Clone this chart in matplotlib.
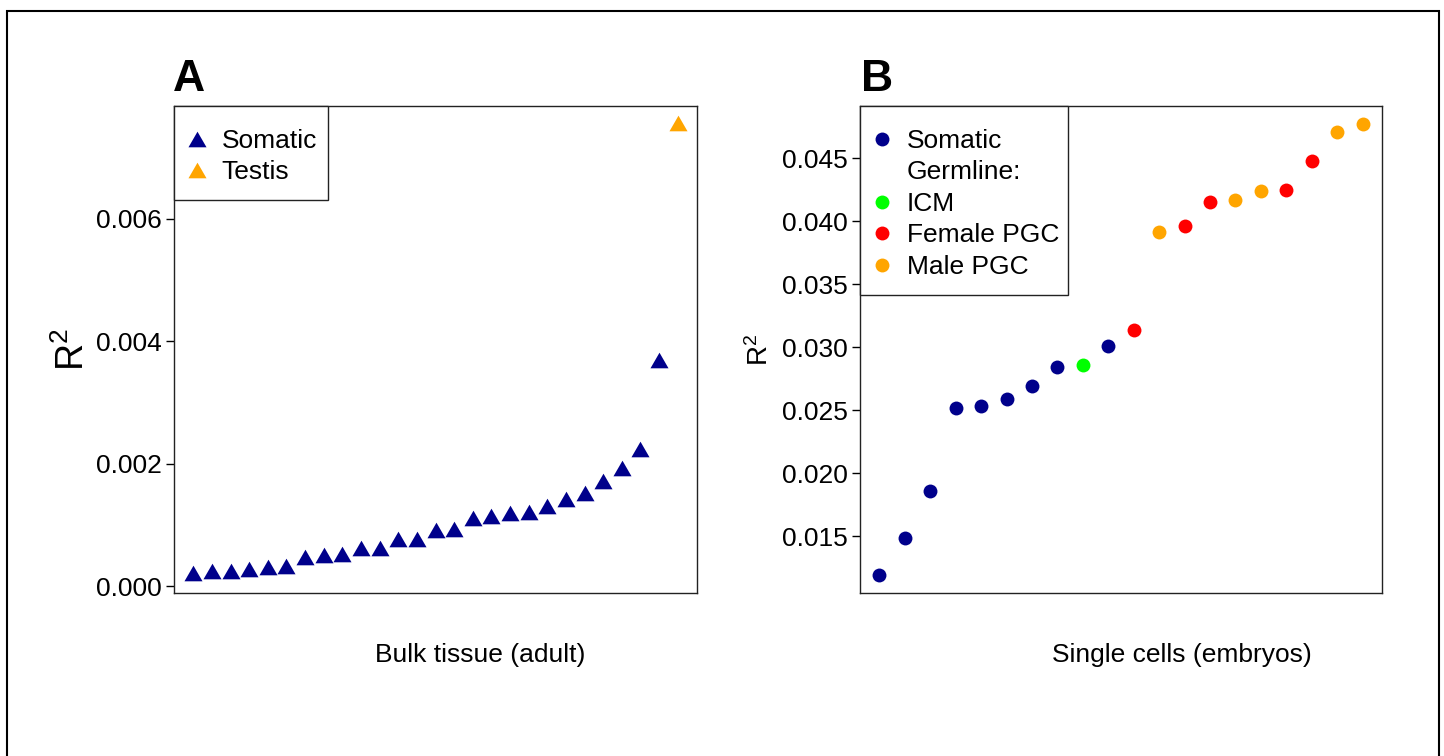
import matplotlib
matplotlib.use("Agg")
import matplotlib.pyplot as plt
from matplotlib.lines import Line2D
from matplotlib.patches import Rectangle
from matplotlib.path import Path

plt.rcParams['font.family'] = ['Liberation Sans', 'DejaVu Sans']
plt.rcParams['mathtext.fontset'] = 'custom'
plt.rcParams['mathtext.rm'] = 'Liberation Sans'
plt.rcParams['mathtext.default'] = 'regular'

# ---- Data ----
bulk_somatic = [0.000207, 0.000240, 0.000245, 0.000278, 0.000310, 0.000322,
                0.000478, 0.000501, 0.000518, 0.000620, 0.000620, 0.000767,
                0.000772, 0.000909, 0.000926, 0.001105, 0.001143, 0.001187,
                0.001208, 0.001301, 0.001416, 0.001523, 0.001719, 0.001931,
                0.002232, 0.003690]
bulk_testis = [0.007570]

single_values = [0.01188, 0.01481, 0.01857, 0.02513, 0.02532, 0.02587,
                 0.02688, 0.02839, 0.02860, 0.03005, 0.03135, 0.03913,
                 0.03958, 0.04148, 0.04169, 0.04236, 0.04249, 0.04479,
                 0.04709, 0.04767]
single_groups = ['Somatic', 'Somatic', 'Somatic', 'Somatic', 'Somatic', 'Somatic',
                 'Somatic', 'Somatic', 'ICM', 'Somatic', 'Female PGC', 'Male PGC',
                 'Female PGC', 'Female PGC', 'Male PGC', 'Male PGC', 'Female PGC',
                 'Female PGC', 'Male PGC', 'Male PGC']

group_colors = {'Somatic': '#00008B', 'ICM': '#00FF00',
                'Female PGC': '#FF0000', 'Male PGC': '#FFA500'}

yticks_a = [0.000, 0.002, 0.004, 0.006]
yticks_b = [0.015, 0.020, 0.025, 0.030, 0.035, 0.040, 0.045]

# ---- Figure ----
W, H = 1444, 756
fig = plt.figure(figsize=(W / 100, H / 100), dpi=100)

def fx(px):
    return px / W

def fy(py):
    return 1 - py / H

FS = 19
AX_TOP, AX_BOT = 106, 593
A_L, A_R = 174, 697
B_L, B_R = 860, 1382

# outer border
fig.patches.append(Rectangle((fx(7), -0.02), fx(1439) - fx(7), fy(11) + 0.02,
                             transform=fig.transFigure, fill=False,
                             edgecolor='black', linewidth=1.5))

tri = Path([(-1, -0.866), (1, -0.866), (0, 0.866), (-1, -0.866)],
           [Path.MOVETO, Path.LINETO, Path.LINETO, Path.CLOSEPOLY])

axA = fig.add_axes([fx(A_L), fy(AX_BOT), fx(A_R) - fx(A_L), fy(AX_TOP) - fy(AX_BOT)])
axB = fig.add_axes([fx(B_L), fy(AX_BOT), fx(B_R) - fx(B_L), fy(AX_TOP) - fy(AX_BOT)])

# Panel A
nA = len(bulk_somatic) + len(bulk_testis)
xs_som = list(range(1, len(bulk_somatic) + 1))
xs_tes = list(range(len(bulk_somatic) + 1, nA + 1))
axA.plot(xs_som, bulk_somatic, linestyle='none', marker=tri, markersize=13,
         markeredgewidth=0, color='#00008B', label='Somatic')
axA.plot(xs_tes, bulk_testis, linestyle='none', marker=tri, markersize=13,
         markeredgewidth=0, color='#FFA500', label='Testis')
ext = 0.04 * (nA - 1)
axA.set_xlim(1 - ext, nA + ext)
axA.set_ylim(-0.000114, 0.00784)
axA.set_yticks(yticks_a)
axA.set_yticklabels(['%.3f' % v for v in yticks_a])
axA.set_ylabel('R$^{2}$', fontsize=27)
axA.yaxis.label.set_va('center')
axA.yaxis.set_label_coords((73 - A_L) / (A_R - A_L), 0.5)

# Panel B
nB = len(single_values)
for g in ['Somatic', 'ICM', 'Female PGC', 'Male PGC']:
    xs = [i + 1 for i, gg in enumerate(single_groups) if gg == g]
    ys = [v for v, gg in zip(single_values, single_groups) if gg == g]
    axB.plot(xs, ys, linestyle='none', marker='o', markersize=10,
             markeredgewidth=0, color=group_colors[g])
extB = 0.04 * (nB - 1)
axB.set_xlim(1 - extB, nB + extB)
axB.set_ylim(0.01048, 0.04913)
axB.set_yticks(yticks_b)
axB.set_yticklabels(['%.3f' % v for v in yticks_b])
axB.set_ylabel('R$^{2}$', fontsize=20)
axB.yaxis.label.set_va('center')
axB.yaxis.set_label_coords((760 - B_L) / (B_R - B_L), 0.5)

for ax in (axA, axB):
    ax.set_xticks([])
    ax.tick_params(axis='y', labelsize=FS, length=5.5, width=1, pad=3)
    for s in ax.spines.values():
        s.set_linewidth(1.0)
        s.set_color('#222222')

def legend_box(ax, left, right, bottom):
    w = right - left
    ax_w = (A_R - A_L) if ax is axA else (B_R - B_L)
    ax_l = A_L if ax is axA else B_L
    h_ax = AX_BOT - AX_TOP
    y0 = (AX_BOT - bottom) / h_ax
    r = Rectangle(((left - ax_l) / ax_w, y0), w / ax_w, 1 - y0,
                  transform=ax.transAxes, facecolor='white', edgecolor='#222222',
                  linewidth=1.0, zorder=3, clip_on=False)
    ax.add_patch(r)

leg_common = dict(loc='upper left', borderaxespad=0, frameon=False, fontsize=FS,
                  handlelength=0.42, handleheight=0.7, handletextpad=0.72,
                  labelspacing=0.284, borderpad=0.0)

# Legend A
legend_box(axA, 174, 328, 200)
legA_handles = [Line2D([], [], linestyle='none', marker=tri, markersize=13,
                       markeredgewidth=0, color='#00008B'),
                Line2D([], [], linestyle='none', marker=tri, markersize=13,
                       markeredgewidth=0, color='#FFA500')]
legA = axA.legend(legA_handles, ['Somatic', 'Testis'],
                  bbox_to_anchor=((191.5 - A_L) / (A_R - A_L), (AX_BOT - 129) / (AX_BOT - AX_TOP)),
                  **leg_common)
legA.set_zorder(5)

# Legend B
legend_box(axB, 860, 1068, 295)
legB_labels = ['Somatic', 'Germline:', 'ICM', 'Female PGC', 'Male PGC']
legB_handles = [Line2D([], [], linestyle='none', marker='o', markersize=10,
                       markeredgewidth=0, color=group_colors['Somatic']),
                Line2D([], [], linestyle='none', marker='None'),
                Line2D([], [], linestyle='none', marker='o', markersize=10,
                       markeredgewidth=0, color=group_colors['ICM']),
                Line2D([], [], linestyle='none', marker='o', markersize=10,
                       markeredgewidth=0, color=group_colors['Female PGC']),
                Line2D([], [], linestyle='none', marker='o', markersize=10,
                       markeredgewidth=0, color=group_colors['Male PGC'])]
legB = axB.legend(legB_handles, legB_labels,
                  bbox_to_anchor=((876.5 - B_L) / (B_R - B_L), (AX_BOT - 129) / (AX_BOT - AX_TOP)),
                  **leg_common)
legB.set_zorder(5)

# Panel letters
fig.text(fx(173), fy(91), 'A', fontsize=32, fontweight='bold', ha='left', va='baseline')
fig.text(fx(861), fy(91), 'B', fontsize=32, fontweight='bold', ha='left', va='baseline')

# x labels
fig.text(fx(480), fy(655), 'Bulk tissue (adult)', fontsize=FS, ha='center', va='center')
fig.text(fx(1182), fy(655), 'Single cells (embryos)', fontsize=FS, ha='center', va='center')

fig.savefig('out.png', dpi=100)
